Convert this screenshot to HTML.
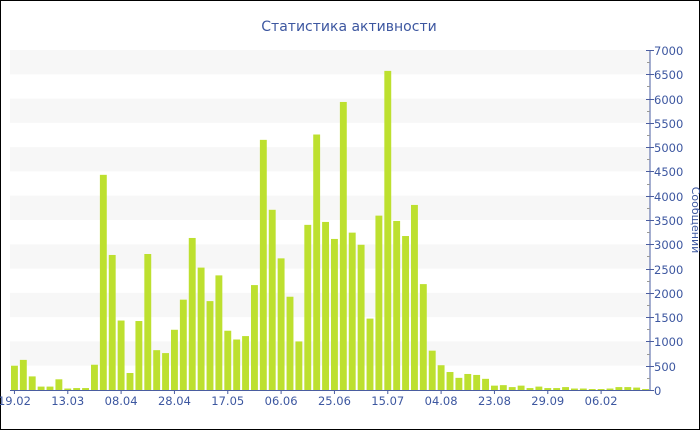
<!DOCTYPE html>
<html><head><meta charset="utf-8"><style>
html,body{margin:0;padding:0;background:#fff}
svg{display:block;font-family:"DejaVu Sans","Liberation Sans",sans-serif}
</style></head><body>
<svg id="c" width="700" height="430" viewBox="0 0 700 430" xmlns="http://www.w3.org/2000/svg">
<rect x="0.5" y="0.5" width="699" height="429" fill="#fff" stroke="#000"/>
<text x="349" y="31" text-anchor="middle" font-size="14" fill="#3d57a0">Статистика активности</text>
<g id="bands"></g><g id="bars"></g><g id="axis"></g>
<text transform="translate(692,220) rotate(90)" text-anchor="middle" font-size="11" fill="#3d57a0">Сообщений</text>
</svg>
<script>
var ns="http://www.w3.org/2000/svg";
function el(p,t,a,txt){var e=document.createElementNS(ns,t);for(var k in a)e.setAttribute(k,a[k]);if(txt)e.textContent=txt;document.getElementById(p).appendChild(e);}
var y0=390,sc=340/7000;
for(var v=500;v<7000;v+=1000){el("bands","rect",{x:10,y:y0-(v+500)*sc,width:640,height:500*sc,fill:"#f7f7f7"});}
var d=[500,620,280,70,70,220,30,40,40,520,4430,2780,1430,350,1420,2800,820,760,1240,1860,3130,2520,1830,2360,1220,1040,1110,2160,5150,3710,2710,1920,1000,3400,5260,3460,3110,5930,3240,2990,1470,3590,6570,3480,3170,3810,2180,810,510,370,250,330,310,230,90,100,60,90,40,70,40,40,60,30,30,20,20,30,60,60,50,20];
var pw=640/72;
d.forEach(function(v,i){var h=v*sc;el("bars","rect",{x:(10+i*pw+1).toFixed(2),y:(y0-h).toFixed(2),width:(pw-2).toFixed(2),height:h.toFixed(2),fill:"#bde02f"});});
el("axis","line",{x1:650,y1:50,x2:650,y2:390,stroke:"#4a5da0","stroke-width":1});
el("axis","line",{x1:10,y1:390.5,x2:650,y2:390.5,stroke:"#4a5da0","stroke-width":1});
for(var v=0;v<=7000;v+=250){var y=Math.round(y0-v*sc)+0.5;
 if(v%500==0){el("axis","line",{x1:646,y1:y,x2:654,y2:y,stroke:"#4a5da0"});el("axis","text",{x:654,y:y+4.5,"font-size":11.5,fill:"#3d57a0"},String(v));}
 else el("axis","line",{x1:647,y1:y,x2:650,y2:y,stroke:"#999"});}
var labs=["19.02","13.03","08.04","28.04","17.05","06.06","25.06","15.07","04.08","23.08","29.09","06.02"];
labs.forEach(function(l,j){var x=10+(j*6+0.5)*pw;el("axis","line",{x1:x,y1:390,x2:x,y2:394,stroke:"#4a5da0"});el("axis","text",{x:x,y:405,"font-size":11.5,fill:"#3d57a0","text-anchor":"middle"},l);});
</script>
</body></html>
